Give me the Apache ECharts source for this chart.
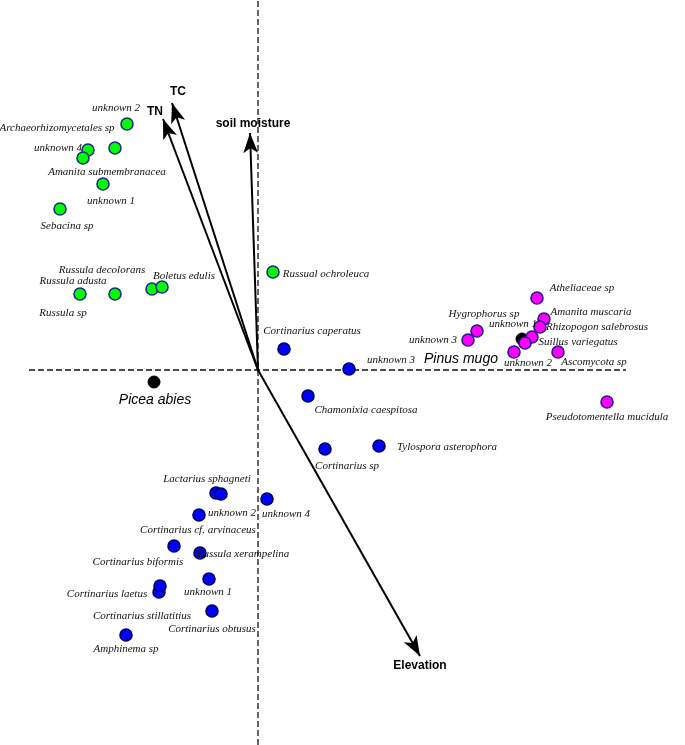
<!DOCTYPE html>
<html>
<head>
<meta charset="utf-8">
<script src="https://cdn.jsdelivr.net/npm/echarts@6/dist/echarts.min.js"></script>
<style>
  html, body { margin: 0; padding: 0; background: #fff; }
  #chart { width: 685px; height: 745px; }
</style>
</head>
<body>
<div id="chart"></div>
<script>
// ordination scores (axis 1 / axis 2)
var greenNames = ['unknown 2', 'Archaeorhizomycetales sp', 'unknown 4', 'Amanita submembranacea', 'unknown 1',
  'Sebacina sp', 'Russula sp', 'Russula adusta', 'Russula decolorans', 'Boletus edulis', 'Russual ochroleuca'];
var greenX = [-1.31, -1.43, -1.70, -1.75, -1.55, -1.98, -1.78, -1.43, -1.06, -0.96, 0.15];
var greenY = [2.46, 2.22, 2.20, 2.12, 1.86, 1.61, 0.76, 0.76, 0.81, 0.83, 0.98];

var pinkNames = ['Atheliaceae sp', 'Amanita muscaria', 'Rhizopogon salebrosus', 'Hygrophorus sp', 'unknown 3',
  'Suillus variegatus', 'unknown 1', 'unknown 2', 'Ascomycota sp', 'Pseudotomentella mucidula'];
var pinkX = [2.79, 2.86, 2.82, 2.19, 2.10, 2.74, 2.67, 2.56, 3.00, 3.49];
var pinkY = [0.72, 0.51, 0.43, 0.39, 0.30, 0.33, 0.27, 0.18, 0.18, -0.32];

var blueNames = ['Cortinarius caperatus', 'unknown 3', 'Chamonixia caespitosa', 'Cortinarius sp', 'Tylospora asterophora',
  'Lactarius sphagneti', 'unknown 2', 'unknown 4', 'Cortinarius cf. arvinaceus', 'Cortinarius biformis',
  'Russula xerampelina', 'unknown 1', 'Cortinarius laetus', 'Cortinarius stillatitius', 'Cortinarius obtusus', 'Amphinema sp'];
var blueX = [0.26, 0.91, 0.50, 0.67, 1.21, -0.42, -0.37, 0.09, -0.59, -0.84, -0.58, -0.49, -0.99, -0.98, -0.46, -1.32];
var blueY = [0.21, 0.01, -0.26, -0.79, -0.76, -1.23, -1.24, -1.29, -1.45, -1.76, -1.83, -2.09, -2.22, -2.16, -2.41, -2.65];

var siteNames = ['Pinus mugo', 'Picea abies'];
var siteX = [2.64, -1.04];
var siteY = [0.31, -0.12];

var envNames = ['TC', 'TN', 'soil moisture', 'Elevation'];
var envX = [-0.86, -0.95, -0.08, 1.62];
var envY = [2.67, 2.51, 2.37, -2.86];

// label placement (pixels, relative to the point)
var greenOff = [[-11, -16], [-58, -20], [-30, -2], [24, 14], [8, 17], [7, 17], [-17, 19], [-42, -13], [-50, -19], [22, -11], [53, 2]];
var pinkOff = [[45, -10], [47, -7], [57, 0], [7, -17], [-35, 0], [46, 5], [-12, -19], [14, 11], [36, 10], [0, 15]];
var blueOff = [[28, -18], [42, -9], [58, 14], [22, 17], [68, 1], [-9, -14], [11, 19], [19, 15], [-1, 15], [-36, 16],
  [43, 1], [-1, 13], [-52, 2], [-18, 30], [0, 18], [0, 14]];
var siteOff = [[-61, 20], [1, 18]];
var envOff = [[6, -11], [-8, -7], [3, -9], [0, 10]];

function points(names, xs, ys, offs) {
  return names.map(function (n, i) {
    return {
      name: n,
      value: [xs[i], ys[i]],
      label: { offset: offs[i] }
    };
  });
}

var speciesLabel = {
  show: true,
  position: 'inside',
  align: 'center',
  verticalAlign: 'middle',
  formatter: '{b}',
  fontFamily: '"Liberation Serif", "Times New Roman", serif',
  fontStyle: 'italic',
  fontSize: 11,
  color: '#111',
  textBorderWidth: 0
};

function speciesSeries(names, xs, ys, offs, fill, border) {
  return {
    type: 'scatter',
    symbol: 'circle',
    symbolSize: 12,
    itemStyle: { color: fill, borderColor: border, borderWidth: 1.6, opacity: 1 },
    label: speciesLabel,
    emphasis: { disabled: true },
    z: 5,
    data: points(names, xs, ys, offs)
  };
}

var arrowLines = envNames.map(function (n, i) {
  return [{ coord: [0, 0] }, { coord: [envX[i], envY[i]] }];
});

var option = {
  animation: false,
  grid: { left: 0, right: 0, top: 0, bottom: 0 },
  xAxis: { type: 'value', min: -2.58, max: 4.27, show: false },
  yAxis: { type: 'value', min: -3.75, max: 3.70, show: false },
  series: [
    {
      type: 'line',
      data: [[0, -3.75], [0, 3.70]],
      symbol: 'none',
      lineStyle: { color: '#333', width: 1.5, type: [6, 3] },
      z: 1
    },
    {
      type: 'line',
      data: [[-2.29, 0], [3.68, 0]],
      symbol: 'none',
      lineStyle: { color: '#111', width: 1.5, type: [6, 3] },
      z: 1,
      markLine: {
        silent: true,
        symbol: ['none', 'arrow'],
        symbolSize: [11, 20],
        label: { show: false },
        lineStyle: { color: '#000', width: 2, type: 'solid' },
        data: arrowLines
      }
    },
    {
      type: 'scatter',
      symbolSize: 0,
      silent: true,
      itemStyle: { opacity: 1 },
      label: {
        show: true,
        position: 'inside',
        align: 'center',
        verticalAlign: 'middle',
        formatter: '{b}',
        fontFamily: '"Liberation Sans", Arial, sans-serif',
        fontWeight: 'bold',
        fontSize: 12,
        color: '#000',
        textBorderWidth: 0
      },
      data: points(envNames, envX, envY, envOff)
    },
    speciesSeries(greenNames, greenX, greenY, greenOff, '#00ff00', '#1f2a8a'),
    speciesSeries(pinkNames, pinkX, pinkY, pinkOff, '#ff00ff', '#2a1a8a'),
    speciesSeries(blueNames, blueX, blueY, blueOff, '#0000ff', '#000055'),
    {
      type: 'scatter',
      symbolSize: 12,
      itemStyle: { color: '#000', borderColor: '#000', opacity: 1 },
      label: {
        show: true,
        position: 'inside',
        align: 'center',
        verticalAlign: 'middle',
        formatter: '{b}',
        fontFamily: '"Liberation Sans", Arial, sans-serif',
        fontStyle: 'italic',
        fontSize: 14,
        color: '#000',
        textBorderWidth: 0
      },
      z: 4,
      data: points(siteNames, siteX, siteY, siteOff)
    }
  ]
};

var chart = echarts.init(document.getElementById('chart'));
chart.setOption(option);
window.onresize = function () { chart.resize(); };
</script>
</body>
</html>
